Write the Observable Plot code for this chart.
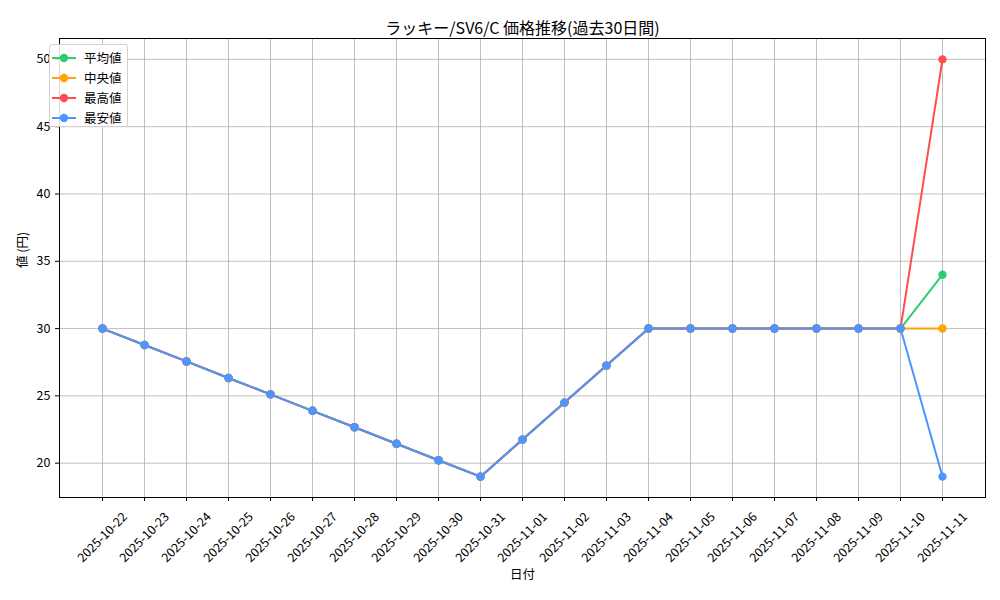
<!DOCTYPE html>
<html>
<head>
<meta charset="utf-8">
<script src="https://cdn.jsdelivr.net/npm/d3@7"></script>
<script src="https://cdn.jsdelivr.net/npm/@observablehq/plot@0.6"></script>
<style>
  body { margin: 0; background: #fff; font-family: "Noto Sans CJK JP", "DejaVu Sans", sans-serif; }
  #wrap { position: relative; width: 1000px; height: 600px; }
  #legend { position: absolute; left: 49px; top: 44px; height: 83px; box-sizing: border-box;
    border: 1px solid #d0d0d0; border-radius: 3px; background: rgba(255,255,255,0.85); padding: 3px 5px 0 0; }
  .item { display: flex; align-items: center; height: 20px; font-size: 12.5px; line-height: 20px; color: #000; white-space: nowrap; }
  .item svg { margin-left: 2px; margin-right: 8px; flex: none; }
</style>
</head>
<body>
<div id="wrap"><div id="chart"></div><div id="legend"></div></div>
<script>
const title = "ラッキー/SV6/C 価格推移(過去30日間)";
const xLabel = "日付";
const yLabel = "値 (円)";
const dates = ["2025-10-22","2025-10-23","2025-10-24","2025-10-25","2025-10-26","2025-10-27","2025-10-28",
  "2025-10-29","2025-10-30","2025-10-31","2025-11-01","2025-11-02","2025-11-03","2025-11-04","2025-11-05",
  "2025-11-06","2025-11-07","2025-11-08","2025-11-09","2025-11-10","2025-11-11"];
const avgValues    = [30, 28.78, 27.56, 26.33, 25.11, 23.89, 22.67, 21.44, 20.22, 19, 21.75, 24.5, 27.25, 30, 30, 30, 30, 30, 30, 30, 34];
const medianValues = [30, 28.78, 27.56, 26.33, 25.11, 23.89, 22.67, 21.44, 20.22, 19, 21.75, 24.5, 27.25, 30, 30, 30, 30, 30, 30, 30, 30];
const maxValues    = [30, 28.78, 27.56, 26.33, 25.11, 23.89, 22.67, 21.44, 20.22, 19, 21.75, 24.5, 27.25, 30, 30, 30, 30, 30, 30, 30, 50];
const minValues    = [30, 28.78, 27.56, 26.33, 25.11, 23.89, 22.67, 21.44, 20.22, 19, 21.75, 24.5, 27.25, 30, 30, 30, 30, 30, 30, 30, 19];
const seriesNames  = ["平均値", "中央値", "最高値", "最安値"];
const seriesColors = ["#2ecc71", "#ffa500", "#ff4d4d", "#4d96ff"];
const yTicks = [20, 25, 30, 35, 40, 45, 50];

const seriesValues = [avgValues, medianValues, maxValues, minValues];
const series = seriesNames.map((name, i) => ({
  name, color: seriesColors[i],
  data: dates.map((d, j) => ({date: d, value: seriesValues[i][j]}))
}));

const marks = [
  Plot.gridY(yTicks, {stroke: "#b0b0b0", strokeOpacity: 1, strokeWidth: 0.8}),
  Plot.gridX(dates, {stroke: "#b0b0b0", strokeOpacity: 1, strokeWidth: 0.8}),
  Plot.axisY(yTicks, {tickSize: 4, tickPadding: 5, fontSize: 12.5, label: null}),
  Plot.axisX(dates, {tickSize: 4, tickFormat: () => "", label: null}),
  Plot.text(dates, {x: d => d, frameAnchor: "bottom", rotate: -45, textAnchor: "middle", lineAnchor: "middle", dy: 40, fontSize: 12.5}),
  Plot.text([xLabel], {frameAnchor: "bottom", dy: 81, fontSize: 12.5}),
  Plot.text([yLabel], {frameAnchor: "left", rotate: -90, dx: -37, fontSize: 12.5}),
  Plot.text([title], {frameAnchor: "top", dy: -16, fontSize: 16}),
];
for (const s of series) {
  marks.push(Plot.line(s.data, {x: "date", y: "value", stroke: s.color, strokeWidth: 2}));
  marks.push(Plot.dot(s.data, {x: "date", y: "value", fill: s.color, r: 4.2}));
}
marks.push(Plot.frame({stroke: "#000", strokeWidth: 1}));

const chart = Plot.plot({
  width: 1000, height: 600,
  marginLeft: 59, marginRight: 15, marginTop: 38, marginBottom: 103,
  style: {fontFamily: '"Noto Sans CJK JP", sans-serif', fontSize: "12.5px", background: "#fff", color: "#000"},
  x: {type: "point", domain: dates, padding: 1},
  y: {domain: [17.45, 51.55]},
  marks
});
document.getElementById("chart").appendChild(chart);

const legend = document.getElementById("legend");
for (const s of series) {
  const row = document.createElement("div");
  row.className = "item";
  row.innerHTML = `<svg width="24" height="12"><line x1="0" x2="24" y1="6" y2="6" stroke="${s.color}" stroke-width="2"/><circle cx="12" cy="6" r="4.2" fill="${s.color}"/></svg><span>${s.name}</span>`;
  legend.appendChild(row);
}
</script>
</body>
</html>
